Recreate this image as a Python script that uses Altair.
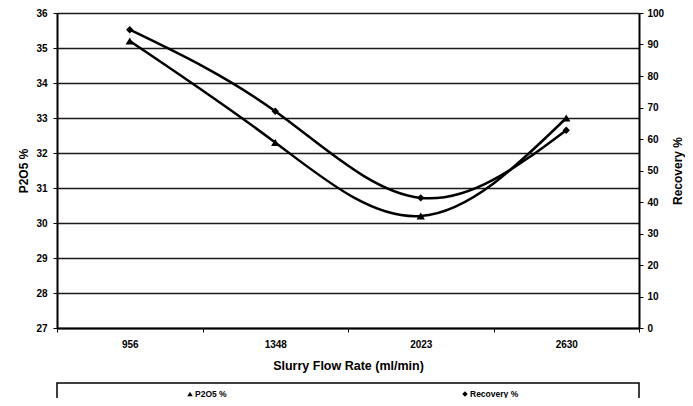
import altair as alt
import pandas as pd

# ---- data ----
flow = ["956", "1348", "2023", "2630"]
p2o5 = [35.2, 32.3, 30.2, 33.0]
recovery = [94.7, 68.8, 41.3, 62.8]
left_ticks = [27, 28, 29, 30, 31, 32, 33, 34, 35, 36]
right_ticks = [0, 10, 20, 30, 40, 50, 60, 70, 80, 90, 100]

df = pd.DataFrame({"flow": flow, "p2o5": p2o5, "recovery": recovery})

W, H = 582, 315
FONT = "Liberation Sans"

xenc = alt.X(
    "flow:N", sort=flow, bandPosition=0.5,
    scale=alt.Scale(type="band", paddingInner=0, paddingOuter=0),
    axis=alt.Axis(
        title="Slurry Flow Rate (ml/min)", labelAngle=0, tickBand="extent",
        tickSize=4, labelPadding=7, domainWidth=2, domainColor="black",
        tickColor="black", labelFont=FONT, labelFontSize=10, labelFontWeight="bold",
        labelColor="black", titleFont=FONT, titleFontSize=12.5, titleFontWeight="bold",
        titleColor="black", titleX=W / 2, titleY=37, titleBaseline="middle",
        grid=False,
    ),
)

yleft = alt.Y(
    "p2o5:Q",
    scale=alt.Scale(domain=[27, 36], nice=False, zero=False),
    axis=alt.Axis(
        orient="left", title="P2O5 %", values=left_ticks, format="d",
        grid=True, gridColor="#1a1a1a", gridWidth=1.3,
        tickSize=4, tickColor="black", labelPadding=6, domainWidth=2, domainColor="black",
        labelFont=FONT, labelFontSize=10, labelFontWeight="bold", labelColor="black",
        titleFont=FONT, titleFontSize=12, titleFontWeight="bold", titleColor="black",
        titleAngle=270, titleX=-34, titleY=H / 2, titleBaseline="middle", titleAlign="center",
    ),
)

yright = alt.Y(
    "recovery:Q",
    scale=alt.Scale(domain=[0, 100], nice=False),
    axis=alt.Axis(
        orient="right", title="Recovery %", values=right_ticks, format="d",
        grid=False, tickSize=4, tickColor="black", labelPadding=4,
        domainWidth=2, domainColor="black",
        labelFont=FONT, labelFontSize=10, labelFontWeight="bold", labelColor="black",
        titleFont=FONT, titleFontSize=12, titleFontWeight="bold", titleColor="black",
        titleAngle=270, titleX=38, titleY=H / 2, titleBaseline="middle", titleAlign="center",
    ),
)

base = alt.Chart(df)

p_line = base.mark_line(interpolate="natural", color="black", strokeWidth=2.5).encode(x=xenc, y=yleft)
p_pts = base.mark_point(shape="triangle-up", filled=True, color="black", size=70, opacity=1).encode(x=xenc, y=yleft)
left = alt.layer(p_line, p_pts)

r_line = base.mark_line(interpolate="natural", color="black", strokeWidth=2.5).encode(x=xenc, y=yright)
r_pts = base.mark_point(shape="diamond", filled=True, color="black", size=55, opacity=1).encode(x=xenc, y=yright)
right = alt.layer(r_line, r_pts)

# ---- legend box (decoration) ----
one = alt.Chart(pd.DataFrame({"k": [0]}))
leg_box = one.mark_rect(fill="white", stroke="black", strokeWidth=1.5).encode(
    x=alt.value(0), x2=alt.value(W), y=alt.value(370), y2=alt.value(392)
)
leg_tri = one.mark_point(shape="triangle-up", filled=True, color="black", size=30, opacity=1).encode(
    x=alt.value(133), y=alt.value(381)
)
leg_tri_t = one.mark_text(text="P2O5 %", font=FONT, fontSize=8.5, fontWeight="bold", align="left",
                          baseline="middle", color="black").encode(x=alt.value(138), y=alt.value(381))
leg_dia = one.mark_point(shape="diamond", filled=True, color="black", size=30, opacity=1).encode(
    x=alt.value(408), y=alt.value(381)
)
leg_dia_t = one.mark_text(text="Recovery %", font=FONT, fontSize=8.5, fontWeight="bold", align="left",
                          baseline="middle", color="black").encode(x=alt.value(413), y=alt.value(381))

chart = alt.layer(
    left, right, leg_box, leg_tri, leg_tri_t, leg_dia, leg_dia_t
).resolve_scale(y="independent").properties(
    width=W, height=H,
    autosize=alt.AutoSizeParams(type="none"),
    padding={"left": 49, "top": 5, "right": 46, "bottom": 70},
).configure_view(stroke="black", strokeWidth=2).configure(background="white")

chart.save("out.html", embed_options={"renderer": "svg", "actions": False})
